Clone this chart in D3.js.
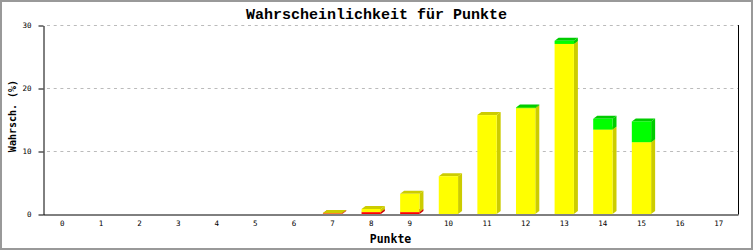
<!DOCTYPE html>
<html>
<head>
<meta charset="utf-8">
<script src="https://cdn.jsdelivr.net/npm/d3@7"></script>
<style>
  body { margin: 0; background: #fff; }
  svg { display: block; }
</style>
</head>
<body>
<svg></svg>
<script>
const width = 753;
const height = 250;
const plotLeft = 43, plotRight = 738, plotTop = 25, plotBottom = 214;
const depthX = 4, depthY = 3;

// data
const categories = ["0","1","2","3","4","5","6","7","8","9","10","11","12","13","14","15","16","17"];
const redValues    = [0,0,0,0,0,0,0,0.1,0.3,0.3,0,0,0,0,0,0,0,0];
const yellowValues = [0,0,0,0,0,0,0,0.05,0.5,2.9,6.0,15.7,16.8,27.0,13.4,11.4,0,0];
const greenValues  = [0,0,0,0,0,0,0,0,0,0,0,0,0.1,0.5,1.7,3.3,0,0];
const yTicks = [0, 10, 20, 30];

const seriesNames = ["red", "yellow", "green"];
const colors = {
  red:    { front: "#ff0000", dark: "#cc0000" },
  yellow: { front: "#ffff00", dark: "#cccc00" },
  green:  { front: "#00ff00", dark: "#00cc00" }
};

let rows = categories.map((c, i) => ({
  cat: c, red: redValues[i], yellow: yellowValues[i], green: greenValues[i]
}));
let stacked = d3.stack().keys(seriesNames)(rows);

let xScale = d3.scaleBand()
  .domain(categories)
  .range([plotLeft, plotRight])
  .paddingInner(0.5)
  .paddingOuter(0.25);
let yScale = d3.scaleLinear()
  .domain([0, 30])
  .range([plotBottom, plotTop]);

let svg = d3.select("svg")
  .attr("width", width)
  .attr("height", height);

svg.append("rect")
  .attr("x", 1).attr("y", 1)
  .attr("width", width - 2).attr("height", height - 2)
  .attr("fill", "#fff")
  .attr("stroke", "#999")
  .attr("stroke-width", 2);

// grid
svg.append("g").selectAll("line")
  .data(yTicks.filter(d => d > 0))
  .enter().append("line")
    .attr("x1", plotLeft + 4).attr("x2", plotRight)
    .attr("y1", d => Math.round(yScale(d)) + 0.5)
    .attr("y2", d => Math.round(yScale(d)) + 0.5)
    .attr("stroke", "#bbb")
    .attr("stroke-dasharray", "3,3.7");

// bars, bottom segment first
let bars = svg.append("g");
categories.forEach((c, i) => {
  let x0 = xScale(c), w = xScale.bandwidth();
  stacked.forEach(s => {
    let lo = s[i][0], hi = s[i][1];
    if (hi - lo <= 0) return;
    let yb = yScale(lo), yt = yScale(hi);
    let col = colors[s.key];
    bars.append("polygon")
      .attr("points", [[x0 + w, yb], [x0 + w + depthX, yb - depthY], [x0 + w + depthX, yt - depthY], [x0 + w, yt]].join(" "))
      .attr("fill", col.dark);
    bars.append("polygon")
      .attr("points", [[x0, yt], [x0 + depthX, yt - depthY], [x0 + w + depthX, yt - depthY], [x0 + w, yt]].join(" "))
      .attr("fill", col.dark);
    bars.append("rect")
      .attr("x", x0).attr("y", yt)
      .attr("width", w).attr("height", yb - yt)
      .attr("fill", col.front);
  });
});

// axes
let yAxis = d3.axisLeft(yScale)
  .tickValues(yTicks)
  .tickSize(5)
  .tickSizeOuter(0)
  .tickPadding(7);
let gy = svg.append("g")
  .attr("transform", `translate(${plotLeft + 0.5}, 0.5)`)
  .call(yAxis);

let xAxis = d3.axisBottom(xScale)
  .tickSize(0)
  .tickSizeOuter(0)
  .tickPadding(6);
let gx = svg.append("g")
  .attr("transform", `translate(0, ${plotBottom + 0.5})`)
  .call(xAxis);

[gx, gy].forEach(g => {
  g.selectAll("text")
    .style("font-family", "'DejaVu Sans Mono', monospace")
    .style("font-size", "7.5px")
    .attr("fill", "#000");
  g.selectAll("line, path").attr("stroke", "#000");
});

svg.append("line")
  .attr("x1", plotRight + 0.5).attr("x2", plotRight + 0.5)
  .attr("y1", plotTop).attr("y2", plotBottom + 0.5)
  .attr("stroke", "#000");

// titles
svg.append("text")
  .attr("x", width / 2)
  .attr("y", 14)
  .attr("dy", "0.35em")
  .style("text-anchor", "middle")
  .style("font-family", "'Liberation Mono', monospace")
  .style("font-size", "15px")
  .style("font-weight", "bold")
  .text("Wahrscheinlichkeit für Punkte");

svg.append("text")
  .attr("x", (plotLeft + plotRight) / 2)
  .attr("y", 239)
  .attr("dy", "0.35em")
  .style("text-anchor", "middle")
  .style("font-family", "'DejaVu Sans Mono', monospace")
  .style("font-size", "11.5px")
  .style("font-weight", "bold")
  .text("Punkte");

svg.append("text")
  .attr("transform", "rotate(-90)")
  .attr("x", -116)
  .attr("y", 12)
  .attr("dy", "0.35em")
  .style("text-anchor", "middle")
  .style("font-family", "'DejaVu Sans Mono', monospace")
  .style("font-size", "10px")
  .style("font-weight", "bold")
  .text("Wahrsch. (%)");
</script>
</body>
</html>
